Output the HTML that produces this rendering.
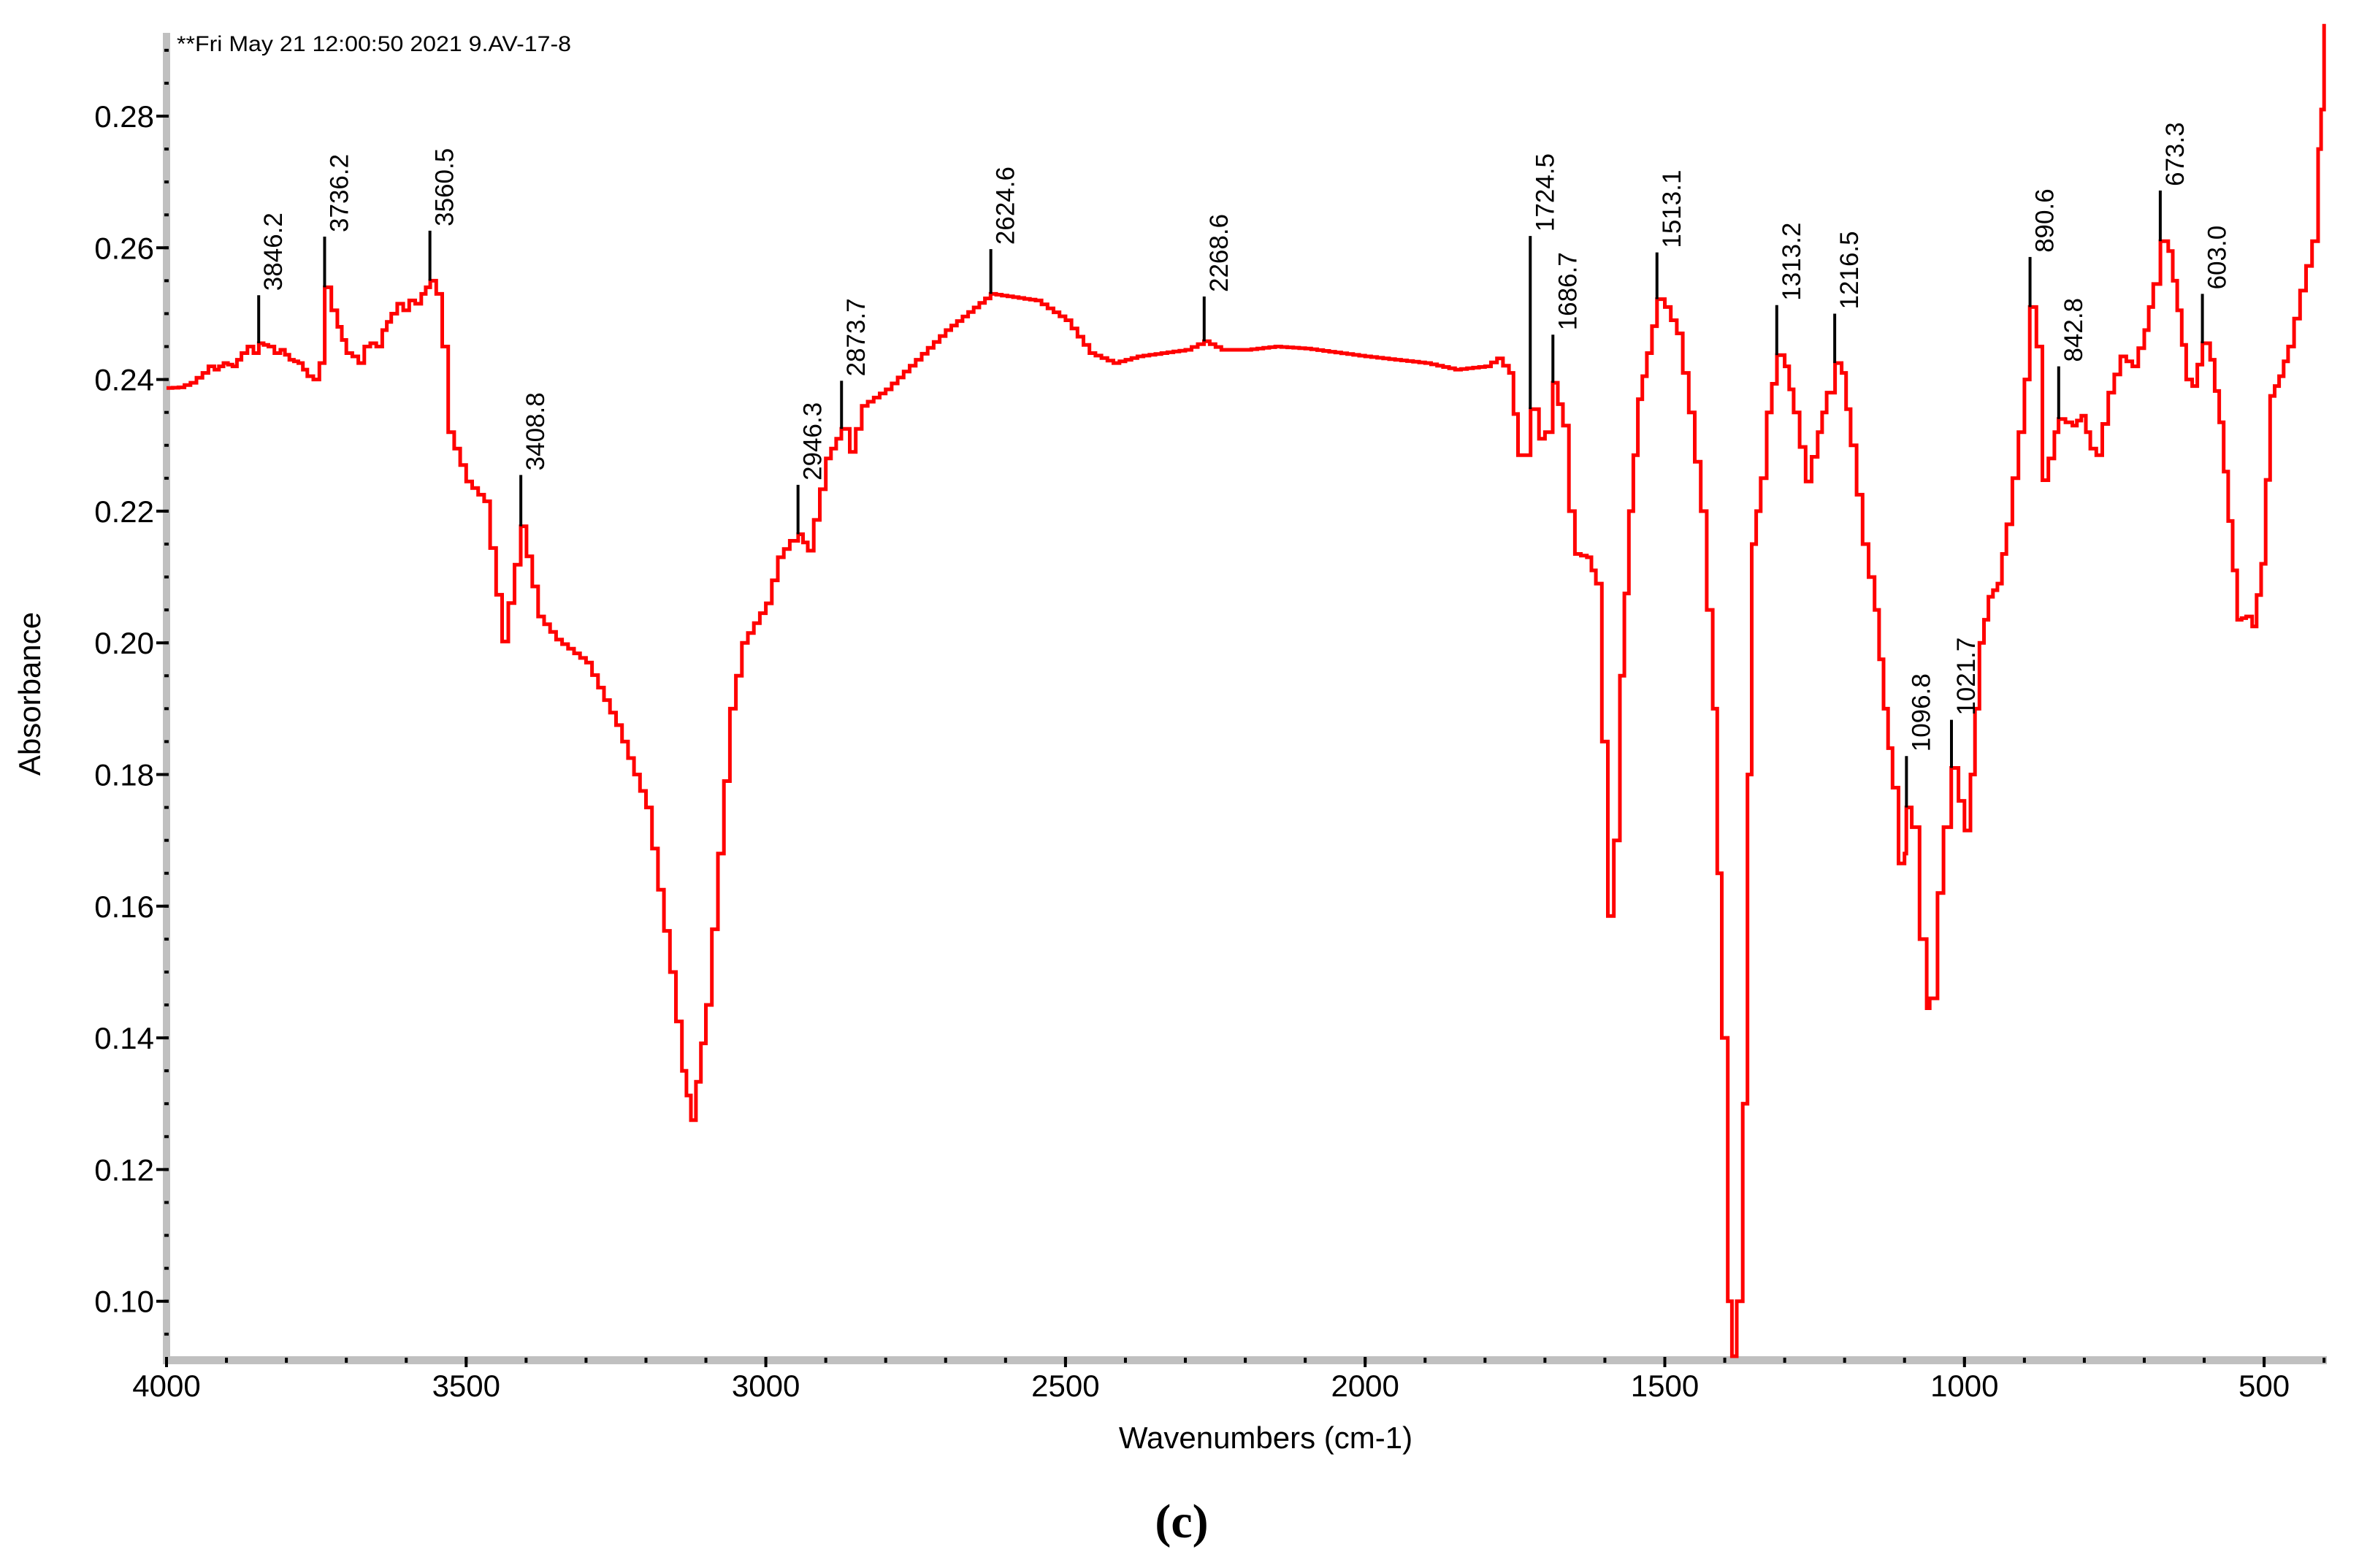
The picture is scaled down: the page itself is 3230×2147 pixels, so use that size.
<!DOCTYPE html>
<html><head><meta charset="utf-8"><style>
html,body{margin:0;padding:0;background:#fff;}
svg{display:block;font-family:"Liberation Sans",Arial,sans-serif;}
</style></head><body>
<svg id="chart" width="3230" height="2147" viewBox="0 0 3230 2147" xmlns="http://www.w3.org/2000/svg">
<rect width="3230" height="2147" fill="#fff"/>
<g id="axes"></g>
<g id="series"></g>
<g id="peaks"></g>
<text x="242" y="70" font-size="30" textLength="540" lengthAdjust="spacingAndGlyphs" fill="#000">**Fri May 21 12:00:50 2021 9.AV-17-8</text>
<text transform="translate(55,950) rotate(-90)" text-anchor="middle" font-size="42" fill="#000">Absorbance</text>
<text x="1733" y="1983" text-anchor="middle" font-size="42" fill="#000">Wavenumbers (cm-1)</text>
<text x="1618" y="2105" text-anchor="middle" font-size="66" font-weight="bold" font-family="Liberation Serif, serif" fill="#000">(c)</text>
</svg>
<script>
const wavenumbers=[4000,3980,3960,3940,3930,3920,3905,3890,3875,3865,3855,3846,3830,3820,3810,3795,3780,3765,3755,3745,3736,3725,3715,3700,3690,3680,3670,3660,3650,3640,3625,3615,3605,3595,3585,3575,3560,3550,3540,3530,3500,3470,3440,3409,3380,3350,3300,3250,3200,3160,3140,3125,3100,3080,3060,3040,3000,2980,2960,2946,2930,2900,2874,2860,2840,2800,2750,2700,2625,2550,2500,2460,2420,2380,2300,2269,2240,2200,2150,2100,2000,1900,1850,1800,1780,1760,1745,1735,1724,1710,1700,1687,1670,1660,1650,1630,1615,1605,1595,1585,1575,1560,1545,1530,1513,1500,1480,1460,1440,1420,1405,1395,1388,1380,1370,1362,1355,1340,1330,1313,1300,1285,1265,1245,1230,1216,1205,1190,1170,1150,1135,1120,1110,1100,1097,1088,1075,1063,1058,1045,1035,1022,1010,1000,990,975,960,945,930,910,900,891,880,870,860,850,843,820,805,790,780,760,740,720,700,685,673,660,645,630,620,603,590,575,560,545,530,520,505,490,475,460,440,420,410,405,400];
const absorbance=[0.2387,0.2388,0.2395,0.2410,0.2420,0.2415,0.2425,0.2420,0.2440,0.2450,0.2440,0.2455,0.2450,0.2440,0.2445,0.2430,0.2425,0.2405,0.2400,0.2425,0.2540,0.2505,0.2480,0.2440,0.2435,0.2425,0.2450,0.2455,0.2450,0.2475,0.2500,0.2515,0.2505,0.2520,0.2515,0.2530,0.2550,0.2530,0.2450,0.2320,0.2245,0.2215,0.2002,0.2177,0.2040,0.2005,0.1970,0.1875,0.1750,0.1500,0.1350,0.1275,0.1450,0.1680,0.1900,0.2000,0.2060,0.2130,0.2155,0.2165,0.2140,0.2280,0.2325,0.2290,0.2360,0.2385,0.2430,0.2475,0.2530,0.2520,0.2490,0.2440,0.2425,0.2435,0.2445,0.2458,0.2445,0.2445,0.2450,0.2447,0.2435,0.2425,0.2415,0.2420,0.2432,0.2410,0.2285,0.2285,0.2355,0.2310,0.2320,0.2395,0.2330,0.2200,0.2135,0.2130,0.2090,0.1850,0.1585,0.1700,0.1950,0.2200,0.2370,0.2440,0.2522,0.2510,0.2470,0.2350,0.2200,0.1900,0.1400,0.1000,0.0915,0.1000,0.1300,0.1800,0.2150,0.2250,0.2350,0.2437,0.2420,0.2350,0.2245,0.2320,0.2380,0.2425,0.2410,0.2300,0.2150,0.2050,0.1900,0.1780,0.1665,0.1680,0.1750,0.1720,0.1550,0.1445,0.1460,0.1620,0.1720,0.1810,0.1760,0.1715,0.1800,0.2000,0.2070,0.2090,0.2180,0.2320,0.2400,0.2510,0.2450,0.2247,0.2280,0.2320,0.2340,0.2330,0.2345,0.2295,0.2285,0.2380,0.2435,0.2420,0.2475,0.2545,0.2610,0.2595,0.2505,0.2400,0.2390,0.2455,0.2430,0.2335,0.2185,0.2035,0.2040,0.2025,0.2120,0.2375,0.2405,0.2450,0.2535,0.2610,0.2750,0.2810,0.2940];
const peakLabels=["3846.2","3736.2","3560.5","3408.8","2946.3","2873.7","2624.6","2268.6","1724.5","1686.7","1513.1","1313.2","1216.5","1096.8","1021.7","890.6","842.8","673.3","603.0"];
const peakBase=[0.2455,0.2540,0.2550,0.2177,0.2165,0.2325,0.2530,0.2458,0.2355,0.2395,0.2522,0.2437,0.2425,0.1750,0.1810,0.2510,0.2340,0.2610,0.2455];
const peakTop=[0.2528,0.2617,0.2626,0.2255,0.2240,0.2398,0.2598,0.2526,0.2618,0.2468,0.2593,0.2513,0.2500,0.1828,0.1883,0.2586,0.2420,0.2687,0.2530];
const xTicks=[4000,3500,3000,2500,2000,1500,1000,500];
const yTicks=[0.10,0.12,0.14,0.16,0.18,0.20,0.22,0.24,0.26,0.28];

const NS="http://www.w3.org/2000/svg";
const X=w=>228+(4000-w)*0.8206;
const Y=v=>159+(0.28-v)*9015;
function mk(tag,attrs,parent){const e=document.createElementNS(NS,tag);for(const k in attrs)e.setAttribute(k,attrs[k]);parent.appendChild(e);return e;}
const axes=document.getElementById('axes'),series=document.getElementById('series'),peaks=document.getElementById('peaks');

let yb=mk('rect',{x:223,y:45,width:10,height:1823,fill:'#c0c0c0'},axes);


let xb=mk('rect',{x:223,y:1857,width:2963,height:11,fill:'#c0c0c0'},axes);


for(let i=0;i<=45;i++){const v=0.09+i*0.005;const yy=Y(v);if(yy<50||yy>1860)continue;
 const t=mk('line',{x1:225,x2:231,y1:yy,y2:yy,stroke:'#000','stroke-width':4},axes);
 
 }
yTicks.forEach(v=>{const yy=Y(v);
 const t=mk('line',{x1:214,x2:231,y1:yy,y2:yy,stroke:'#000','stroke-width':4},axes);
 
 
 const l=mk('text',{x:211,y:yy+15,'text-anchor':'end','font-size':42,fill:'#000'},axes);
 l.textContent=v.toFixed(2);
 
 });
for(let w=4000;w>=400;w-=100){const xx=X(w);
 const t=mk('line',{x1:xx,x2:xx,y1:1859,y2:1866,stroke:'#000','stroke-width':4},axes);
 
 }
xTicks.forEach(w=>{const xx=X(w);
 const t=mk('line',{x1:xx,x2:xx,y1:1858,y2:1872,stroke:'#000','stroke-width':4},axes);
 
 
 const l=mk('text',{x:xx,y:1912,'text-anchor':'middle','font-size':42,fill:'#000'},axes);
 l.textContent=String(w);
 
 });

// spectrum: linear segments rendered as fine pixel staircase (instrument style)
const STEP=8;
let d='M'+X(wavenumbers[0]).toFixed(1)+' '+Y(absorbance[0]).toFixed(1)+' ';
for(let i=1;i<wavenumbers.length;i++){
 const x0=X(wavenumbers[i-1]),x1=X(wavenumbers[i]);
 const y0=Math.min(Y(absorbance[i-1]),1857),y1=Math.min(Y(absorbance[i]),1857);
 const n=Math.max(1,Math.round((x1-x0)/STEP));
 for(let k=1;k<=n;k++){const xx=x0+(x1-x0)*k/n;const yy=y0+(y1-y0)*k/n;
  d+='H'+xx.toFixed(1)+' V'+yy.toFixed(1)+' ';}
}
const p=mk('path',{d:d,fill:'none',stroke:'#ff0000','stroke-width':5,'stroke-linejoin':'miter'},series);



peakLabels.forEach((lab,i)=>{const w=parseFloat(lab);const x=X(w);const y0=Y(peakBase[i]),y1=Y(peakTop[i]);
 const ln=mk('line',{x1:x,x2:x,y1:y0,y2:y1,stroke:'#000','stroke-width':4},peaks);
 
 
 const t=mk('text',{transform:`translate(${x+32},${y1-6}) rotate(-90)`,'font-size':35,fill:'#000'},peaks);
 t.textContent=lab;
 
 });
</script>
</body></html>
